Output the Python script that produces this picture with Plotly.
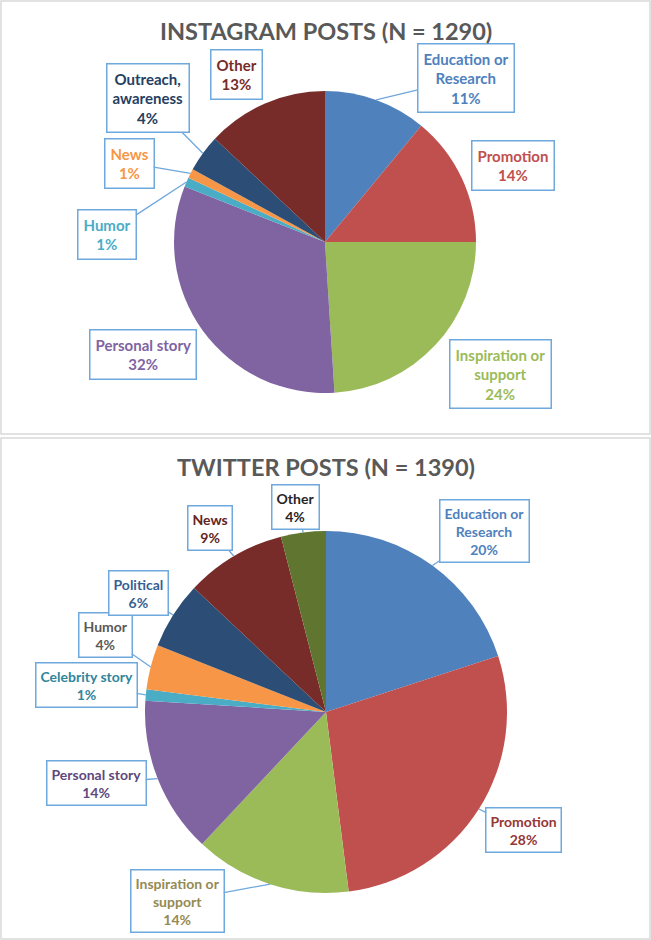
import math
import plotly.graph_objects as go

W, H = 651, 940

# Instagram posts (N = 1290), share of posts in %
ig_labels = ["Education or<br>Research", "Promotion", "Inspiration or<br>support", "Personal story",
             "Humor", "News", "Outreach,<br>awareness", "Other"]
ig_values = [11, 14, 24, 32, 1, 1, 4, 13]
ig_colors = ["#4F81BD", "#C0504D", "#9BBB59", "#8064A2", "#4BACC6", "#F79646", "#2C4D75", "#772C2A"]
ig_text_colors = ["#4F81BD", "#C0504D", "#9BBB59", "#8064A2", "#4BACC6", "#F79646", "#254061", "#772C2A"]

# Twitter posts (N = 1390), share of posts in %
tw_labels = ["Education or<br>Research", "Promotion", "Inspiration or<br>support", "Personal story",
             "Celebrity story", "Humor", "Political", "News", "Other"]
tw_values = [20, 28, 14, 14, 1, 4, 6, 9, 4]
tw_colors = ["#4F81BD", "#C0504D", "#9BBB59", "#8064A2", "#4BACC6", "#F79646", "#2C4D75", "#772C2A", "#5F7530"]
tw_text_colors = ["#4F81BD", "#953735", "#948A54", "#5F497A", "#31859C", "#595959", "#376092", "#632523", "#262626"]

FONT = "Lato"
BOX = "#6FA8DC"

# pie placement in pixels (center x, center y, radius)
ig_pie = (325, 242, 151)
tw_pie = (326, 712, 181)

# callout box centres in pixels, and whether a pointer is drawn
ig_boxes = [(466, 78, True), (513, 166, False), (500, 374, False), (143, 355, False),
            (107, 234, True), (129, 163, True), (148, 98, True), (236, 75, False)]
tw_boxes = [(484, 531, True), (523, 830, True), (177, 901, True), (96, 783, True),
            (86, 685, True), (105, 635, True), (138, 593, True), (210, 528, True), (295, 507, True)]


def domain(p):
    cx, cy, r = p
    return dict(x=[(cx - r) / W, (cx + r) / W], y=[1 - (cy + r) / H, 1 - (cy - r) / H])


def callouts(p, labels, values, tcolors, boxes, size, pad):
    cx, cy, r = p
    total = sum(values)
    out = []
    cum = 0
    for lab, v, c, (bx, by, arrow) in zip(labels, values, tcolors, boxes):
        mid = (cum + v / 2) / total * 2 * math.pi
        cum += v
        tx = cx + r * math.sin(mid)
        ty = cy - r * math.cos(mid)
        txt = f"<b>{lab}<br>{v}%</b>"
        common = dict(text=txt, xref="paper", yref="paper", align="center",
                      font=dict(family=FONT, size=size, color=c),
                      bgcolor="white", bordercolor=BOX, borderwidth=1.5, borderpad=pad)
        if arrow:
            out.append(dict(x=tx / W, y=1 - ty / H, showarrow=True, arrowhead=0,
                            arrowwidth=1.3, arrowcolor=BOX, ax=bx - tx, ay=by - ty, **common))
        else:
            out.append(dict(x=bx / W, y=1 - by / H, showarrow=False,
                            xanchor="center", yanchor="middle", **common))
    return out


fig = go.Figure()
fig.add_trace(go.Pie(labels=[l.replace("<br>", " ") for l in ig_labels], values=ig_values,
                     marker=dict(colors=ig_colors, line=dict(width=0)),
                     sort=False, direction="clockwise", rotation=0,
                     textinfo="none", hoverinfo="label+percent", domain=domain(ig_pie)))
fig.add_trace(go.Pie(labels=[l.replace("<br>", " ") for l in tw_labels], values=tw_values,
                     marker=dict(colors=tw_colors, line=dict(width=0)),
                     sort=False, direction="clockwise", rotation=0,
                     textinfo="none", hoverinfo="label+percent", domain=domain(tw_pie)))

annotations = []
annotations += callouts(ig_pie, ig_labels, ig_values, ig_text_colors, ig_boxes, 15, 5)
annotations += callouts(tw_pie, tw_labels, tw_values, tw_text_colors, tw_boxes, 14, 4)
annotations.append(dict(text="<b>INSTAGRAM POSTS (N = 1290)</b>", x=0.5, y=1 - 31 / H,
                        xref="paper", yref="paper", showarrow=False, yanchor="middle",
                        font=dict(family=FONT, size=23.5, color="#595959")))
annotations.append(dict(text="<b>TWITTER POSTS (N = 1390)</b>", x=0.5, y=1 - 467 / H,
                        xref="paper", yref="paper", showarrow=False, yanchor="middle",
                        font=dict(family=FONT, size=23.5, color="#595959")))

shapes = [
    dict(type="rect", xref="paper", yref="paper", x0=1 / W, x1=1 - 1 / W,
         y0=1 - 434 / H, y1=1 - 1 / H, line=dict(color="#D9D9D9", width=1.5)),
    dict(type="rect", xref="paper", yref="paper", x0=1 / W, x1=1 - 1 / W,
         y0=1 / H, y1=1 - 438 / H, line=dict(color="#D9D9D9", width=1.5)),
]

fig.update_layout(width=W, height=H, margin=dict(l=0, r=0, t=0, b=0),
                  paper_bgcolor="white", plot_bgcolor="white", showlegend=False,
                  annotations=annotations, shapes=shapes)

# drop the browser's default body margin so the figure fills the window
fig.write_html("out.html", config={"displayModeBar": False},
               post_script="document.body.style.margin='0';")
